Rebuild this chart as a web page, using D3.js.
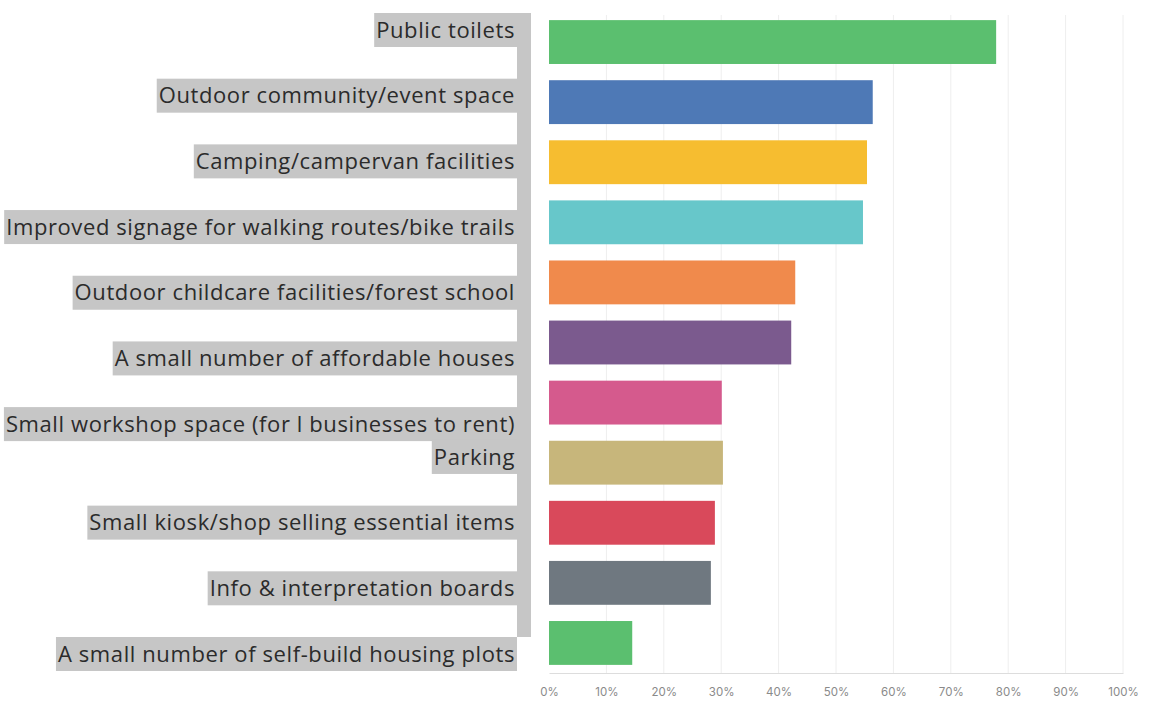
<!DOCTYPE html>
<html lang="en">
<head>
<meta charset="UTF-8">
<title>Facilities survey</title>
<script src="https://d3js.org/d3.v7.min.js"></script>
<style>
    body { margin: 0; background: #fff; }
    .label { font-family: "Open Sans", Lato, sans-serif; font-size: 22px; letter-spacing: 0.6px; fill: #2b2b2b; }
    .tick text { font-family: Inter, "Open Sans", sans-serif; font-size: 11.5px; fill: #8a8a8a; }
</style>
</head>
<body>
<div id="chart"></div>
<script>
    const categories = [
        "Public toilets",
        "Outdoor community/event space",
        "Camping/campervan facilities",
        "Improved signage for walking routes/bike trails",
        "Outdoor childcare facilities/forest school",
        "A small number of affordable houses",
        "Small workshop space (for l businesses to rent)",
        "Parking",
        "Small kiosk/shop selling essential items",
        "Info & interpretation boards",
        "A small number of self-build housing plots"
    ];
    const values = [77.9, 56.4, 55.4, 54.7, 42.9, 42.2, 30.1, 30.3, 28.9, 28.2, 14.5];
    const colors = ["#5bbf6f", "#4e79b6", "#f6bd30", "#67c7ca", "#f08a4c", "#7b5a8e",
                    "#d55a8d", "#c7b67b", "#d9495b", "#6f7880", "#5bbf6f"];
    // the label strip was pasted over the chart, so it has its own row spacing
    const labelRows = [0, 1, 2, 3, 4, 5, 6, 6.5, 7.5, 8.5, 9.5];
    const ticks = [0, 10, 20, 30, 40, 50, 60, 70, 80, 90, 100];

    const width = 1154, height = 709;
    const svg = d3.select("#chart").append("svg")
        .attr("width", width)
        .attr("height", height);

    const x = d3.scaleLinear().domain([0, 100]).range([549, 1123]);
    const y = d3.scaleBand().domain(categories).range([12, 673])
        .paddingInner(0.27).paddingOuter(0.135);
    const labelY = d3.scaleLinear().domain([0, 9.5]).range([30, 654]);

    // grid
    svg.append("g")
        .selectAll("line")
        .data(ticks.slice(1))
        .join("line")
        .attr("x1", d => x(d)).attr("x2", d => x(d))
        .attr("y1", 15).attr("y2", 673)
        .attr("stroke", "#eeeeee");

    const xAxis = svg.append("g")
        .attr("transform", "translate(0,673)")
        .call(d3.axisBottom(x).tickValues(ticks).tickFormat(d => d + "%").tickSize(0).tickPadding(15));
    xAxis.select(".domain").attr("stroke", "#dddddd");

    svg.append("g")
        .selectAll("rect")
        .data(values)
        .join("rect")
        .attr("x", x(0))
        .attr("y", (d, i) => y(categories[i]))
        .attr("width", d => x(d) - x(0))
        .attr("height", y.bandwidth())
        .attr("fill", (d, i) => colors[i]);

    // grey label strip
    svg.append("rect")
        .attr("x", 517).attr("y", 13)
        .attr("width", 14).attr("height", 624)
        .attr("fill", "#c6c6c6");

    const labels = svg.append("g");
    categories.forEach((c, i) => {
        const g = labels.append("g");
        const bg = g.append("rect").attr("fill", "#c6c6c6");
        const t = g.append("text")
            .attr("class", "label")
            .attr("x", 515)
            .attr("y", labelY(labelRows[i]))
            .attr("dy", "0.35em")
            .attr("text-anchor", "end")
            .text(c);
        const b = t.node().getBBox();
        bg.attr("x", b.x - 2)
            .attr("y", labelY(labelRows[i]) - 17)
            .attr("width", 517 - b.x + 2)
            .attr("height", 34);
    });
</script>
</body>
</html>
